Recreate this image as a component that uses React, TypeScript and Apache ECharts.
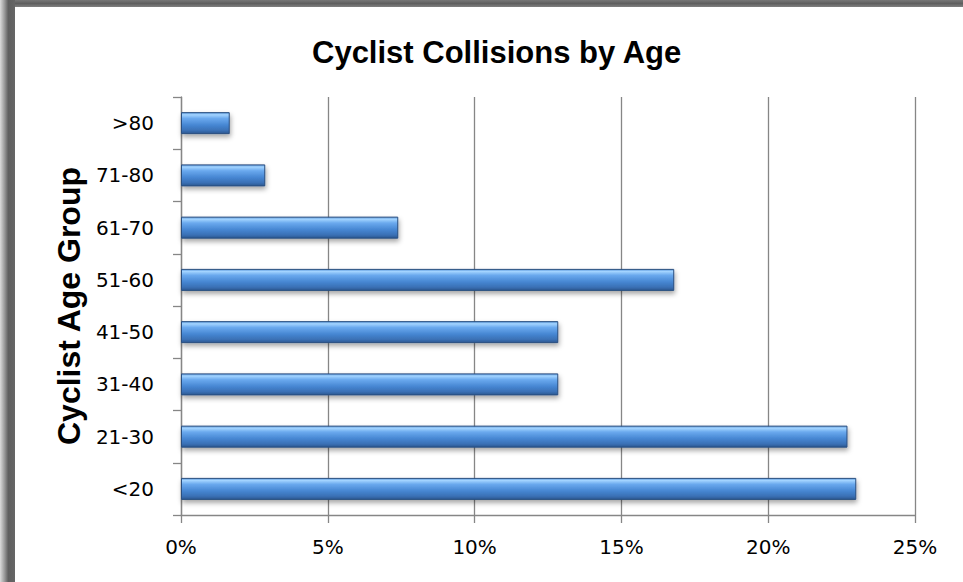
import React, { useEffect, useRef } from "react";
import * as echarts from "echarts";

const categories = ["<20", "21-30", "31-40", "41-50", "51-60", "61-70", "71-80", ">80"];
const collisionShare = [23.0, 22.7, 12.85, 12.85, 16.8, 7.4, 2.87, 1.66];
const xTicks = { min: 0, max: 25, interval: 5 };
const chartTitle = "Cyclist Collisions by Age";
const yAxisTitle = "Cyclist Age Group";

export default function App() {
  const ref = useRef<HTMLDivElement>(null);
  useEffect(() => {
    if (!ref.current) return;
    const chart = echarts.init(ref.current, null, { renderer: "svg" });
    const barColor = new echarts.graphic.LinearGradient(0, 0, 0, 1, [
      { offset: 0, color: "#5a96db" },
      { offset: 0.1, color: "#a3d4ff" },
      { offset: 0.28, color: "#6aa9ee" },
      { offset: 0.6, color: "#4686d2" },
      { offset: 0.85, color: "#3a70b5" },
      { offset: 1, color: "#2c5890" },
    ]);
    chart.setOption({
      animation: false,
      backgroundColor: "#ffffff",
      title: {
        text: chartTitle,
        left: 307,
        top: 32,
        textStyle: {
          fontFamily: "Liberation Sans, Arial, sans-serif",
          fontWeight: "bold",
          fontSize: 31,
          color: "#000",
        },
      },
      grid: { left: 181, right: 48, top: 97, bottom: 67, containLabel: false },
      xAxis: {
        type: "value",
        min: xTicks.min,
        max: xTicks.max,
        interval: xTicks.interval,
        axisLine: { show: true, lineStyle: { color: "#868686", width: 1.3 } },
        axisTick: { show: true, length: 8, lineStyle: { color: "#868686", width: 1.3 } },
        splitLine: { show: true, lineStyle: { color: "#868686", width: 1.3 } },
        axisLabel: {
          formatter: "{value}%",
          fontFamily: "DejaVu Sans, sans-serif",
          fontSize: 20,
          color: "#000",
          margin: 22,
        },
      },
      yAxis: {
        type: "category",
        data: categories,
        name: yAxisTitle,
        nameLocation: "middle",
        nameGap: 95,
        nameTextStyle: {
          fontFamily: "Liberation Sans, Arial, sans-serif",
          fontWeight: "bold",
          fontSize: 32,
          color: "#000",
        },
        axisLine: { show: true, lineStyle: { color: "#868686", width: 1.3 } },
        axisTick: { show: true, length: 8, alignWithLabel: false, lineStyle: { color: "#868686", width: 1.3 } },
        splitLine: { show: false },
        axisLabel: {
          fontFamily: "DejaVu Sans, sans-serif",
          fontSize: 20,
          color: "#000",
          margin: 27,
        },
      },
      graphic: [
        {
          type: "rect",
          z: 100,
          shape: { x: 0, y: 0, width: 963, height: 7 },
          style: {
            fill: new echarts.graphic.LinearGradient(0, 0, 0, 1, [
              { offset: 0, color: "#777777" },
              { offset: 0.5, color: "#5f5f5f" },
              { offset: 1, color: "#808080" },
            ]),
          },
        },
        {
          type: "rect",
          z: 101,
          shape: { x: 0, y: 0, width: 15, height: 582 },
          style: {
            fill: new echarts.graphic.LinearGradient(0, 0, 1, 0, [
              { offset: 0, color: "#dcdcdc" },
              { offset: 0.3, color: "#9a9a9a" },
              { offset: 0.55, color: "#5f5f5f" },
              { offset: 1, color: "#666666" },
            ]),
          },
        },
      ],
      series: [
        {
          type: "bar",
          data: collisionShare,
          barWidth: 22,
          itemStyle: {
            color: barColor,
            borderColor: "#2a4f80",
            borderWidth: 1,
            shadowColor: "rgba(0,0,0,0.35)",
            shadowBlur: 5,
            shadowOffsetX: 1,
            shadowOffsetY: 3,
          },
        },
      ],
    });
    return () => chart.dispose();
  }, []);
  return (
    <div
      ref={ref}
      style={{ position: "fixed", left: 0, top: 0, width: 963, height: 582, background: "#fff" }}
    />
  );
}
